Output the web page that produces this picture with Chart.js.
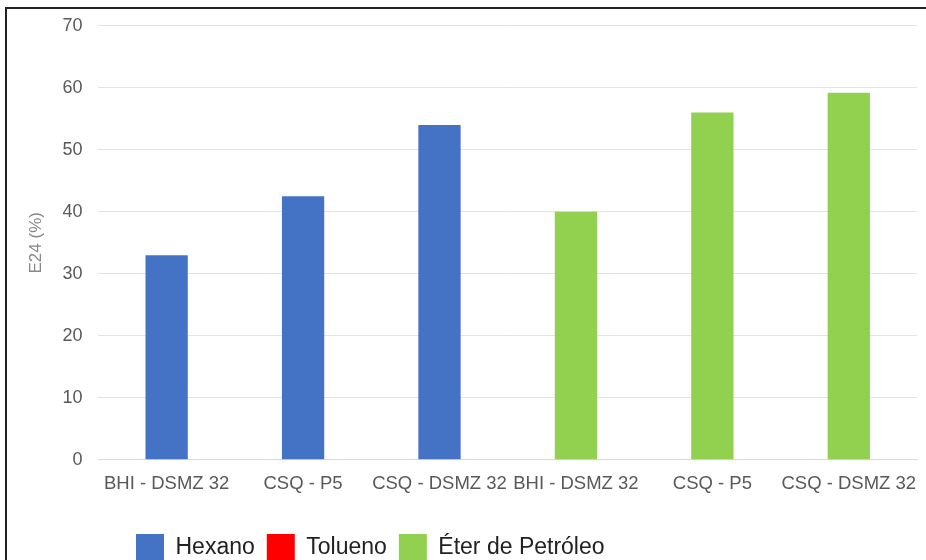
<!DOCTYPE html>
<html>
<head>
<meta charset="utf-8">
<script src="https://cdn.jsdelivr.net/npm/chart.js@4"></script>
<style>
  html, body { margin: 0; padding: 0; background: #fff; }
  body { width: 926px; height: 560px; overflow: hidden; position: relative; }
  #frame {
    position: absolute; left: 5px; top: 7px; width: 921px; height: 553px;
    border-top: 2px solid #222; border-left: 2px solid #222; overflow: hidden;
  }
  #wrap { position: absolute; left: 0; top: -10px; width: 919px; height: 576px; }
</style>
</head>
<body>
<div id="frame"><div id="wrap"><canvas id="chart"></canvas></div></div>
<script>
// categories and values
const categories = ["BHI - DSMZ 32", "CSQ - P5", "CSQ - DSMZ 32", "BHI - DSMZ 32", "CSQ - P5", "CSQ - DSMZ 32"];
const hexano = [33, 42.5, 54, null, null, null];
const tolueno = [null, null, null, null, null, null];
const eterPetroleo = [null, null, null, 40, 56, 59.2];
const yTicks = [0, 10, 20, 30, 40, 50, 60, 70];

const FONT = "Liberation Sans, Arial, sans-serif";

// legend sits lower-left in the original, with extra room above it
const legendPlace = {
    id: "legendPlace",
    beforeInit(chart) {
        const origFit = chart.legend.fit;
        chart.legend.fit = function () {
            origFit.call(this);
            this.height += 25;
        };
    },
    afterLayout(chart) {
        chart.legend.top += 22;
        chart.legend.left = 117;
    }
};

const ctx = document.getElementById("chart").getContext("2d");

new Chart(ctx, {
    type: "bar",
    data: {
        labels: categories,
        datasets: [
            { label: "Hexano", data: hexano, backgroundColor: "#4472C4" },
            { label: "Tolueno", data: tolueno, backgroundColor: "#FF0000" },
            { label: "Éter de Petróleo", data: eterPetroleo, backgroundColor: "#92D050" }
        ]
    },
    options: {
        responsive: true,
        maintainAspectRatio: false,
        animation: false,
        layout: { padding: { left: 15, right: 9, top: 0, bottom: 0 } },
        datasets: { bar: { skipNull: true, barPercentage: 0.31, categoryPercentage: 1 } },
        plugins: {
            legend: {
                position: "bottom",
                align: "start",
                labels: {
                    boxWidth: 28, boxHeight: 28, padding: 12,
                    color: "#222",
                    font: { family: FONT, size: 23 }
                }
            },
            tooltip: { enabled: false }
        },
        scales: {
            x: {
                grid: { display: false },
                border: { color: "#d9d9d9" },
                ticks: {
                    color: "#595959", maxRotation: 0, autoSkip: false, padding: 5,
                    font: { family: FONT, size: 18.5 }
                }
            },
            y: {
                min: 0, max: 70,
                afterBuildTicks: (axis) => { axis.ticks = yTicks.map(v => ({ value: v })); },
                grid: { color: "#e3e3e3", drawTicks: false },
                border: { display: false },
                title: {
                    display: true, text: "E24 (%)", color: "#888",
                    padding: { top: 4, bottom: 0 },
                    font: { family: FONT, size: 17 }
                },
                ticks: {
                    color: "#595959", padding: 16,
                    font: { family: FONT, size: 18 }
                }
            }
        }
    },
    plugins: [legendPlace]
});
</script>
</body>
</html>
